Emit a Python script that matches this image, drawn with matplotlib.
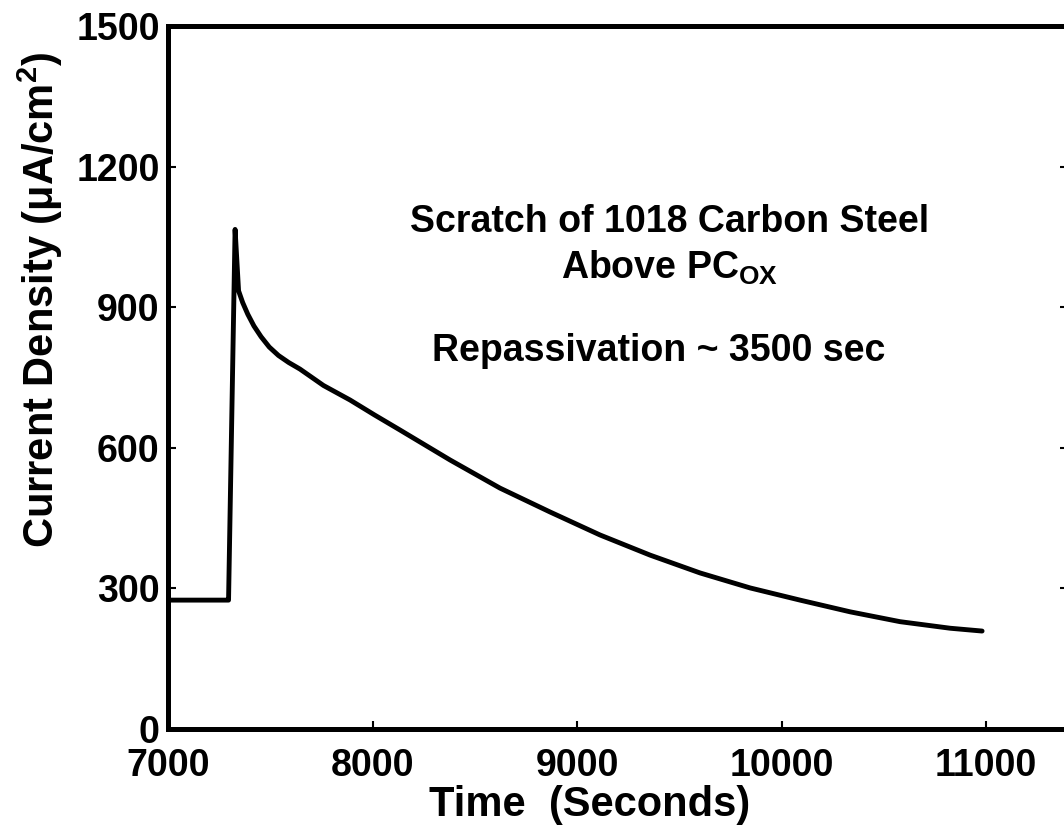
import matplotlib
matplotlib.use('Agg')
import matplotlib.pyplot as plt

# Datos (tiempo en s, densidad de corriente en uA/cm2)
tiempo = [7000, 7290, 7296, 7328, 7345, 7365, 7390, 7420, 7455, 7495,
          7540, 7590, 7645, 7760, 7890, 8010, 8134, 8379, 8623, 8868,
          9112, 9357, 9601, 9846, 10090, 10335, 10579, 10824, 10980]
corriente = [275, 275, 275, 1066, 935, 910, 885, 860, 837, 815,
             797, 782, 768, 733, 702, 670, 638, 574, 514, 463,
             414, 371, 333, 301, 275, 250, 229, 215, 209]

ticks_x = [7000, 8000, 9000, 10000, 11000]
ticks_y = [0, 300, 600, 900, 1200, 1500]

plt.rcParams['font.family'] = ['Liberation Sans', 'DejaVu Sans']
plt.rcParams['font.weight'] = 'bold'
plt.rcParams['mathtext.fontset'] = 'custom'
plt.rcParams['mathtext.rm'] = 'Liberation Sans:bold'
plt.rcParams['mathtext.it'] = 'Liberation Sans:bold'
plt.rcParams['mathtext.bf'] = 'Liberation Sans:bold'

fig = plt.figure(figsize=(10.64, 8.33), dpi=100)
# la imagen original esta recortada justo en el borde derecho del eje
ax = fig.add_axes([168 / 1064, 104 / 833, 900 / 1064, 703 / 833])

ax.plot(tiempo, corriente, color='black', lw=3.5, solid_capstyle='round', solid_joinstyle='round')

ax.set_xlim(7000, 11400)
ax.set_ylim(0, 1500)
ax.set_xticks(ticks_x)
ax.set_yticks(ticks_y)
ax.tick_params(axis='both', direction='in', length=6, width=1.5, labelsize=27, right=True)
ax.tick_params(axis='x', pad=14)
ax.tick_params(axis='y', pad=6)
for s in ax.spines.values():
	s.set_linewidth(3.6)

ax.text(9450, 1082, 'Scratch of 1018 Carbon Steel', ha='center', va='center', fontsize=27)
ax.text(9450, 984, r'Above PC$_{\mathrm{OX}}$', ha='center', va='center', fontsize=27)
ax.text(9400, 806, 'Repassivation ~ 3500 sec', ha='center', va='center', fontsize=27)

fig.text(40 / 1064, 1 - 300 / 833, r'Current Density ($\mu$A/cm$^2$)', rotation=90,
         ha='center', va='center', fontsize=30)
fig.text(590 / 1064, 1 - 805 / 833, 'Time  (Seconds)', ha='center', va='center', fontsize=30)

fig.savefig('out.png', dpi=100)
